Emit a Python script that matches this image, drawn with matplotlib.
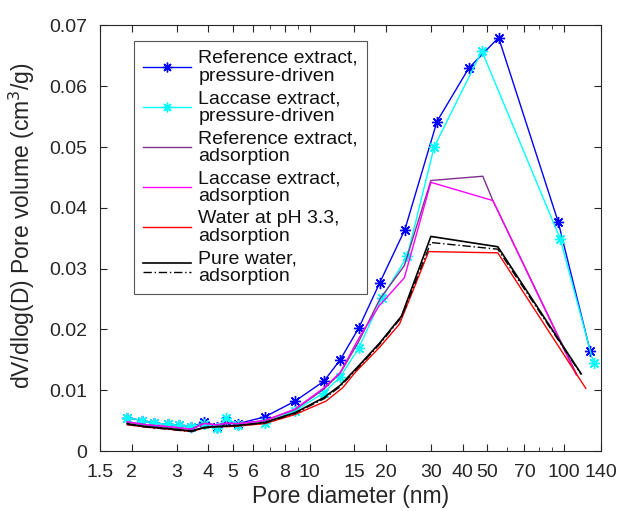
import matplotlib
matplotlib.use("Agg")
import matplotlib.pyplot as plt
from matplotlib.lines import Line2D
from matplotlib.legend_handler import HandlerBase
from matplotlib.ticker import FixedLocator, FixedFormatter, NullFormatter

plt.rcParams['font.family'] = ['Liberation Sans', 'DejaVu Sans']

# ---- data ----
d_ref_pd = [1.92, 2.20, 2.45, 2.77, 3.08, 3.43, 3.86, 4.31, 4.71, 5.23, 6.66, 8.77,
            11.4, 13.2, 15.6, 18.9, 23.7, 31.7, 42.3, 55.4, 95.0, 127.0]
v_ref_pd = [0.0055, 0.0050, 0.0046, 0.0044, 0.0042, 0.0040, 0.0047, 0.0040, 0.0050,
            0.0045, 0.0056, 0.0082, 0.0115, 0.0150, 0.0202, 0.0277, 0.0364, 0.0542,
            0.0630, 0.0680, 0.0377, 0.0164]

d_lac_pd = [1.92, 2.20, 2.45, 2.77, 3.08, 3.43, 3.86, 4.31, 4.71, 5.23, 6.66, 8.77,
            11.4, 13.2, 15.6, 19.2, 24.2, 30.9, 47.6, 96.8, 131.0]
v_lac_pd = [0.0055, 0.0050, 0.0046, 0.0044, 0.0042, 0.0040, 0.0045, 0.0038, 0.0055,
            0.0042, 0.0046, 0.0066, 0.0096, 0.0122, 0.0169, 0.0251, 0.0320, 0.0500,
            0.0658, 0.0349, 0.0144]

d_ref_ads = [1.92, 2.20, 2.45, 2.77, 3.08, 3.43, 3.86, 4.31, 4.71, 5.23, 6.66, 8.77,
             11.4, 13.2, 15.6, 18.9, 23.6, 30.0, 48.0, 52.6, 112.0]
v_ref_ads = [0.0048, 0.0044, 0.0042, 0.0040, 0.0038, 0.0036, 0.0046, 0.0043, 0.0045,
             0.0045, 0.0050, 0.0068, 0.0102, 0.0128, 0.0180, 0.0250, 0.0305, 0.0445,
             0.0452, 0.0412, 0.0127]

d_lac_ads = [1.92, 2.20, 2.45, 2.77, 3.08, 3.43, 3.86, 4.31, 4.71, 5.23, 6.66, 8.77,
             11.4, 13.2, 15.6, 18.8, 23.6, 30.0, 52.6, 112.0]
v_lac_ads = [0.0048, 0.0044, 0.0042, 0.0040, 0.0038, 0.0036, 0.0045, 0.0043, 0.0046,
             0.0045, 0.0050, 0.0069, 0.0104, 0.0129, 0.0185, 0.0239, 0.0285, 0.0442,
             0.0412, 0.0125]

d_w33_ads = [1.92, 2.20, 2.45, 2.77, 3.08, 3.43, 3.86, 4.31, 4.71, 5.23, 6.66, 8.77,
             11.6, 13.5, 15.1, 18.8, 22.6, 29.4, 55.0, 122.0]
v_w33_ads = [0.0043, 0.0040, 0.0038, 0.0036, 0.0034, 0.0032, 0.0038, 0.0040, 0.0040,
             0.0041, 0.0045, 0.0060, 0.0082, 0.0104, 0.0129, 0.0170, 0.0209, 0.0328,
             0.0326, 0.0103]

d_pw_ads = [1.92, 2.20, 2.45, 2.77, 3.08, 3.43, 3.86, 4.31, 4.71, 5.23, 6.66, 8.77,
            11.4, 13.2, 15.6, 18.9, 23.0, 30.0, 55.0, 117.0]
v_pw1_ads = [0.0045, 0.0041, 0.0039, 0.0037, 0.0035, 0.0033, 0.0039, 0.0040, 0.0041,
             0.0042, 0.0047, 0.0063, 0.0088, 0.0108, 0.0140, 0.0178, 0.0222, 0.0353,
             0.0336, 0.0127]
v_pw2_ads = [0.0044, 0.0040, 0.0038, 0.0036, 0.0034, 0.0032, 0.0038, 0.0040, 0.0041,
             0.0042, 0.0046, 0.0062, 0.0086, 0.0106, 0.0138, 0.0176, 0.0220, 0.0343,
             0.0332, 0.0126]

labels = ["Reference extract,\npressure-driven",
          "Laccase extract,\npressure-driven",
          "Reference extract,\nadsorption",
          "Laccase extract,\nadsorption",
          "Water at pH 3.3,\nadsorption",
          "Pure water,\nadsorption"]

x_major = [1.5, 2, 3, 4, 5, 6, 8, 10, 15, 20, 30, 40, 50, 70, 100, 140]
x_major_labels = ["1.5", "2", "3", "4", "5", "6", "8", "10", "15", "20", "30", "40",
                  "50", "70", "100", "140"]
x_minor = [7, 9, 60, 80, 90]
y_ticks = [0, 0.01, 0.02, 0.03, 0.04, 0.05, 0.06, 0.07]
y_tick_labels = ["0", "0.01", "0.02", "0.03", "0.04", "0.05", "0.06", "0.07"]

# ---- figure ----
W, H = 621, 511
fig = plt.figure(figsize=(W / 100, H / 100), dpi=100)
ax = fig.add_axes([100 / W, (H - 451) / H, 501 / W, 425.5 / H])

BLUE = "#0000ff"
CYAN = "#00ffff"
PURPLE = "#7e2f8e"
MAGENTA = "#ff00ff"
RED = "#ff0000"
ast = (8, 2, 0)
TXT = "#262626"

l1, = ax.plot(d_ref_pd, v_ref_pd, color=BLUE, lw=1.0, marker=ast, ms=8, mew=1.0)
l2, = ax.plot(d_lac_pd, v_lac_pd, color=CYAN, lw=1.0, marker=ast, ms=8, mew=1.0)
l3, = ax.plot(d_ref_ads, v_ref_ads, color=PURPLE, lw=1.0)
l4, = ax.plot(d_lac_ads, v_lac_ads, color=MAGENTA, lw=1.0)
l5, = ax.plot(d_w33_ads, v_w33_ads, color=RED, lw=1.0)
l6, = ax.plot(d_pw_ads, v_pw1_ads, color="black", lw=1.2)
l7, = ax.plot(d_pw_ads, v_pw2_ads, color="black", lw=1.0, ls=(0, (6, 2, 1, 2)))

ax.set_xscale("log")
ax.set_xlim(1.5, 140)
ax.set_ylim(0, 0.07)
ax.xaxis.set_major_locator(FixedLocator(x_major))
ax.xaxis.set_major_formatter(FixedFormatter(x_major_labels))
ax.xaxis.set_minor_locator(FixedLocator(x_minor))
ax.xaxis.set_minor_formatter(NullFormatter())
ax.set_yticks(y_ticks)
ax.set_yticklabels(y_tick_labels)

ax.tick_params(which="both", direction="in", top=True, right=True,
               labelsize=14, colors=TXT, pad=9)
ax.tick_params(which="major", length=5)
ax.tick_params(which="minor", length=3)
for s in ax.spines.values():
    s.set_color(TXT)
    s.set_linewidth(0.8)

ax.set_xlabel("Pore diameter (nm)", fontsize=16.5, color=TXT, labelpad=3)
ax.set_ylabel("dV/dlog(D) Pore volume (cm$^3$/g)", fontsize=16.5, color=TXT)
ax.yaxis.set_label_coords(-0.125, 0.53)


class DoubleLineHandler(HandlerBase):
    def create_artists(self, legend, orig_handle, xdescent, ydescent, width, height,
                       fontsize, trans):
        yc = height / 2 - ydescent
        la = Line2D([-xdescent, width - xdescent], [yc + 3, yc + 3], color="black",
                    lw=1.2, transform=trans)
        lb = Line2D([-xdescent, width - xdescent], [yc - 3, yc - 3], color="black",
                    lw=1.0, ls=(0, (6, 2, 1, 2)), transform=trans)
        return [la, lb]


h1 = Line2D([], [], color=BLUE, lw=1.0, marker=ast, ms=7, mew=1.0)
h2 = Line2D([], [], color=CYAN, lw=1.0, marker=ast, ms=7, mew=1.0)
leg = ax.legend([h1, h2, l3, l4, l5, (l6, l7)], labels,
                handler_map={tuple: DoubleLineHandler()},
                loc="upper left", bbox_to_anchor=(0.068, 0.963),
                fontsize=14, frameon=True, fancybox=False, framealpha=1,
                edgecolor="#555555", handlelength=2.5, handletextpad=0.35,
                labelspacing=0.28, borderpad=0.45, borderaxespad=0, numpoints=1)
leg.get_frame().set_linewidth(0.8)
for t in leg.get_texts():
    t.set_linespacing(1.05)
    t.set_color("#111111")

fig.savefig("out.png", dpi=100)
